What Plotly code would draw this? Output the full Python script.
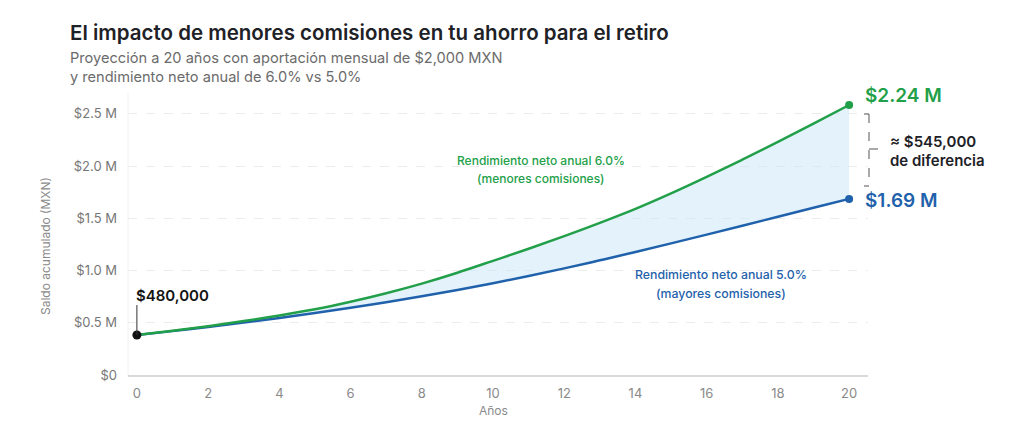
import plotly.graph_objects as go

years = list(range(0, 21))
green_vals = [0.383, 0.423, 0.467, 0.516, 0.570, 0.629, 0.701, 0.783, 0.875, 0.979,
              1.093, 1.209, 1.330, 1.457, 1.591, 1.739, 1.897, 2.062, 2.232, 2.407, 2.585]
blue_vals = [0.383, 0.420, 0.460, 0.502, 0.546, 0.593, 0.643, 0.696, 0.753, 0.814,
             0.879, 0.948, 1.021, 1.098, 1.178, 1.260, 1.344, 1.429, 1.515, 1.601, 1.686]
ytick_vals = [0, 0.5, 1.0, 1.5, 2.0, 2.5]
ytick_text = ["$0", "$0.5 M", "$1.0 M", "$1.5 M", "$2.0 M", "$2.5 M"]
xtick_vals = list(range(0, 21, 2))

GREEN = "#22a049"
BLUE = "#1f62ab"
FONT = "Inter"

L, R, T, B = 128, 156, 93, 52
W, H = 1024, 427
PW, PH = W - L - R, H - T - B

def px(x):
    return (x - L) / PW

def py(y):
    return (H - B - y) / PH

fig = go.Figure()
fig.add_trace(go.Scatter(x=years, y=blue_vals, mode="lines", line=dict(color=BLUE, width=2.5, shape="spline"),
                         hoverinfo="skip", showlegend=False))
fig.add_trace(go.Scatter(x=years, y=green_vals, mode="lines", line=dict(color=GREEN, width=2.5, shape="spline"),
                         fill="tonexty", fillcolor="rgba(205,232,250,0.55)", hoverinfo="skip", showlegend=False))
fig.add_trace(go.Scatter(x=[years[-1]], y=[green_vals[-1]], mode="markers",
                         marker=dict(color=GREEN, size=8), showlegend=False, hoverinfo="skip"))
fig.add_trace(go.Scatter(x=[years[-1]], y=[blue_vals[-1]], mode="markers",
                         marker=dict(color=BLUE, size=8), showlegend=False, hoverinfo="skip"))
# start marker with vertical leader
fig.add_shape(type="line", xref="x", yref="y", x0=years[0], x1=years[0], y0=green_vals[0], y1=0.67,
              line=dict(color="#333", width=1))
fig.add_trace(go.Scatter(x=[years[0]], y=[green_vals[0]], mode="markers",
                         marker=dict(color="#111", size=9), showlegend=False, hoverinfo="skip"))

ann = []
ann.append(dict(text="El impacto de menores comisiones en tu ahorro para el retiro", xref="paper", yref="paper",
                x=px(68), y=py(33), xanchor="left", yanchor="middle", showarrow=False,
                font=dict(family=FONT, size=20.5, color="#1e2126", weight=600)))
ann.append(dict(text="Proyección a 20 años con aportación mensual de $2,000 MXN", xref="paper", yref="paper",
                x=px(68), y=py(58), xanchor="left", yanchor="middle", showarrow=False,
                font=dict(family=FONT, size=14.6, color="#6b6b6b")))
ann.append(dict(text="y rendimiento neto anual de 6.0% vs 5.0%", xref="paper", yref="paper",
                x=px(68), y=py(77), xanchor="left", yanchor="middle", showarrow=False,
                font=dict(family=FONT, size=14.6, color="#6b6b6b")))
ann.append(dict(text="Saldo acumulado (MXN)", xref="paper", yref="paper", x=px(45), y=py(246),
                textangle=-90, xanchor="center", yanchor="middle", showarrow=False,
                font=dict(family=FONT, size=12, color="#8a8a8a")))
ann.append(dict(text="Años", xref="x", yref="paper", x=10, y=py(410), xanchor="center", yanchor="middle",
                showarrow=False, font=dict(family=FONT, size=12, color="#8a8a8a")))
ann.append(dict(text="$480,000", xref="x", yref="y", x=0, y=0.766, xanchor="left", yanchor="middle",
                xshift=-3, showarrow=False, font=dict(family=FONT, size=15, color="#141414", weight=600)))
ann.append(dict(text="$2.24 M", xref="x", yref="y", x=20, y=2.68, xanchor="left", yanchor="middle",
                xshift=14, showarrow=False, font=dict(family=FONT, size=19, color=GREEN, weight=600)))
ann.append(dict(text="$1.69 M", xref="x", yref="y", x=20, y=1.667, xanchor="left", yanchor="middle",
                xshift=14, showarrow=False, font=dict(family=FONT, size=19, color=BLUE, weight=600)))
ann.append(dict(text="≈ $545,000", xref="paper", yref="paper", x=px(888), y=py(141), xanchor="left",
                yanchor="middle", showarrow=False, font=dict(family=FONT, size=15, color="#1e2126", weight=600)))
ann.append(dict(text="de diferencia", xref="paper", yref="paper", x=px(888), y=py(160), xanchor="left",
                yanchor="middle", showarrow=False, font=dict(family=FONT, size=15, color="#1e2126", weight=600)))
ann.append(dict(text="Rendimiento neto anual 6.0%", xref="paper", yref="paper", x=px(541), y=py(160),
                xanchor="center", yanchor="middle", showarrow=False,
                font=dict(family=FONT, size=12, color=GREEN, weight=500)))
ann.append(dict(text="(menores comisiones)", xref="paper", yref="paper", x=px(541), y=py(178),
                xanchor="center", yanchor="middle", showarrow=False,
                font=dict(family=FONT, size=12, color=GREEN, weight=500)))
ann.append(dict(text="Rendimiento neto anual 5.0%", xref="paper", yref="paper", x=px(721), y=py(274),
                xanchor="center", yanchor="middle", showarrow=False,
                font=dict(family=FONT, size=12.3, color=BLUE, weight=500)))
ann.append(dict(text="(mayores comisiones)", xref="paper", yref="paper", x=px(721), y=py(293),
                xanchor="center", yanchor="middle", showarrow=False,
                font=dict(family=FONT, size=12.3, color=BLUE, weight=500)))

# bracket
br = dict(color="#555", width=1, dash="dash")
fig.add_shape(type="line", xref="paper", yref="paper", x0=px(869), x1=px(869), y0=py(114), y1=py(186), line=br)
fig.add_shape(type="line", xref="paper", yref="paper", x0=px(864), x1=px(869), y0=py(114), y1=py(114),
              line=dict(color="#555", width=1))
fig.add_shape(type="line", xref="paper", yref="paper", x0=px(864), x1=px(869), y0=py(186), y1=py(186),
              line=dict(color="#555", width=1))
fig.add_shape(type="line", xref="paper", yref="paper", x0=px(869), x1=px(881), y0=py(149), y1=py(149), line=br)
# left faint axis line
fig.add_shape(type="line", xref="paper", yref="paper", x0=0, x1=0, y0=0, y1=1,
              line=dict(color="#f0f0f0", width=1))

fig.update_layout(
    width=W, height=H, margin=dict(l=L, r=R, t=T, b=B),
    paper_bgcolor="white", plot_bgcolor="white",
    font=dict(family=FONT),
    annotations=ann,
    xaxis=dict(range=[-0.25, 20.53], tickvals=xtick_vals, showgrid=False, zeroline=False,
               showline=True, linecolor="#d9d9d9", linewidth=1.5, ticks="",
               tickfont=dict(family=FONT, size=13, color="#8a8a8a"), ticklabelstandoff=6),
    yaxis=dict(range=[0, 2.7], tickvals=ytick_vals, ticktext=ytick_text, showgrid=True,
               gridcolor="#ececec", griddash="dash", zeroline=False, showline=False, ticks="",
               tickfont=dict(family=FONT, size=13, color="#777777"), ticklabelstandoff=10),
)
fig.write_html("out.html")
